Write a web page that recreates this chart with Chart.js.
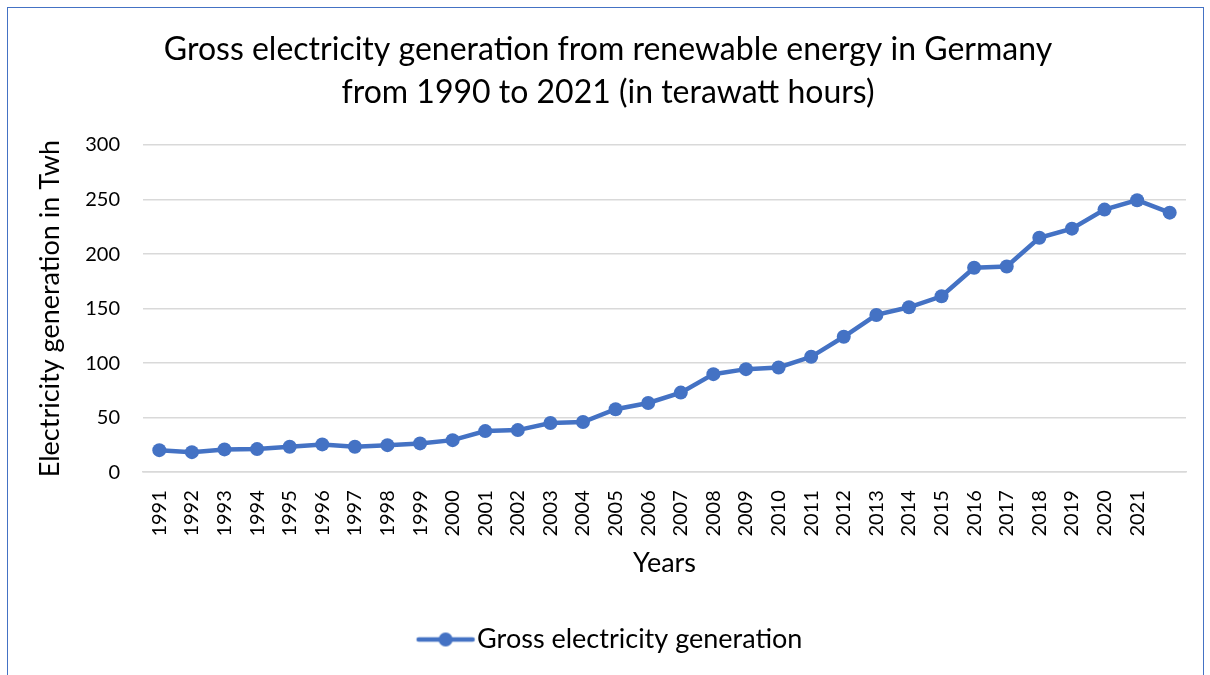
<!DOCTYPE html>
<html>
<head>
<meta charset="utf-8">
<script src="https://cdn.jsdelivr.net/npm/chart.js@4"></script>
<style>
  html, body { margin: 0; padding: 0; background: #fff; }
  #frame {
    position: absolute; left: 7px; top: 7px; width: 1197px; height: 720px;
    border: 1.5px solid #4472c4; box-sizing: border-box;
  }
  #wrap { position: absolute; left: 0; top: 0; width: 1210px; height: 675px; }
</style>
</head>
<body>
<div id="frame"></div>
<div id="wrap"><canvas id="chart" width="1210" height="675"></canvas></div>
<script>
// Values
const years = ["1991", "1992", "1993", "1994", "1995", "1996", "1997", "1998", "1999", "2000",
  "2001", "2002", "2003", "2004", "2005", "2006", "2007", "2008", "2009", "2010",
  "2011", "2012", "2013", "2014", "2015", "2016", "2017", "2018", "2019", "2020",
  "2021", ""];
const generation = [20.2, 18.4, 20.9, 21.2, 23.3, 25.5, 23.3, 24.8, 26.4, 29.4,
  37.7, 38.6, 45.1, 46.0, 57.7, 63.5, 73.0, 89.9, 94.5, 96.0,
  105.8, 124.2, 144.2, 151.2, 161.3, 187.4, 188.6, 215.0, 223.3, 240.8,
  249.4, 238.0];
const yTicks = [0, 50, 100, 150, 200, 250, 300];

const blue = "#4472c4";
const fontFamily = "Lato, 'Noto Sans', sans-serif";

// legend marker: line with a dot in the middle (shifted right so it sits close to the text)
const marker = document.createElement("canvas");
marker.width = 76;
marker.height = 16;
(function () {
  const m = marker.getContext("2d");
  m.strokeStyle = blue;
  m.lineWidth = 4.5;
  m.lineCap = "round";
  m.beginPath();
  m.moveTo(18, 8);
  m.lineTo(72, 8);
  m.stroke();
  m.fillStyle = blue;
  m.beginPath();
  m.arc(45, 8, 7, 0, Math.PI * 2);
  m.fill();
})();

const ctx = document.getElementById("chart").getContext("2d");
const chart = new Chart(ctx, {
  type: "line",
  data: {
    labels: years,
    datasets: [{
      label: "Gross electricity generation",
      data: generation,
      borderColor: blue,
      backgroundColor: blue,
      borderWidth: 4.5,
      pointRadius: 7,
      pointBackgroundColor: blue,
      pointBorderWidth: 0,
      pointStyle: "circle",
      tension: 0,
      fill: false,
    }],
  },
  options: {
    responsive: false,
    animation: false,
    layout: {
      padding: { left: 30, right: 24, top: 0, bottom: 12 },
    },
    scales: {
      x: {
        offset: true,
        grid: { display: false },
        border: { display: true, color: "#d9d9d9", width: 1.5 },
        ticks: {
          color: "#000",
          font: { family: fontFamily, size: 20 },
          minRotation: 90,
          maxRotation: 90,
          autoSkip: false,
          padding: 10,
        },
        title: {
          display: true,
          text: "Years",
          color: "#000",
          font: { family: fontFamily, size: 27 },
          padding: { top: 0, bottom: 37 },
        },
      },
      y: {
        min: 0,
        max: 300,
        afterBuildTicks: (scale) => {
          scale.ticks = yTicks.map((v) => ({ value: v }));
        },
        afterFit: (scale) => {
          scale.width = 113;
        },
        grid: { color: "#d9d9d9", lineWidth: 1.5, drawTicks: false },
        border: { display: false },
        ticks: {
          color: "#000",
          font: { family: fontFamily, size: 20 },
          padding: 23,
        },
        title: {
          display: true,
          text: "Electricity generation in Twh",
          color: "#000",
          font: { family: fontFamily, size: 27 },
          padding: { top: 4, bottom: 0 },
        },
      },
    },
    plugins: {
      title: {
        display: true,
        text: ["Gross electricity generation from renewable energy in Germany",
          "from 1990 to 2021 (in terawatt hours)"],
        color: "#000",
        font: { family: fontFamily, size: 32, weight: "normal", lineHeight: 1.344 },
        padding: { top: 28, bottom: 31 },
      },
      legend: {
        position: "bottom",
        labels: {
          color: "#000",
          font: { family: fontFamily, size: 27 },
          usePointStyle: true,
          pointStyle: marker,
          pointStyleWidth: 50,
          boxHeight: 16,
          padding: 10,
        },
      },
      tooltip: { enabled: false },
    },
  },
});
</script>
</body>
</html>
